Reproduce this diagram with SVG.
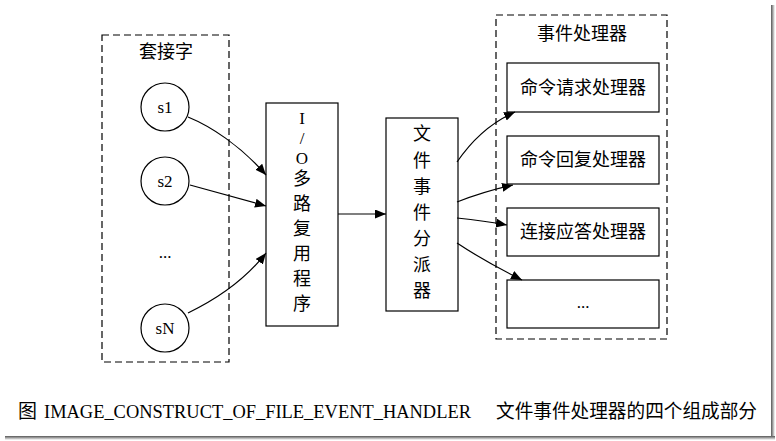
<svg xmlns="http://www.w3.org/2000/svg" width="776" height="441" viewBox="0 0 776 441">
<style>
  .t { font-family: "Liberation Serif", "Noto Sans CJK SC", serif; fill: #000; }
  .cjk { font-family: "Liberation Serif", "Noto Sans CJK SC", serif; font-size: 18px; text-anchor: middle; fill: #000; }
  .lat { font-family: "Liberation Serif", serif; font-size: 17px; text-anchor: middle; fill: #000; }
  .cluster { fill: none; stroke: #000; stroke-width: 1.2; stroke-dasharray: 7 4; }
  .node { fill: #fff; stroke: #000; stroke-width: 1.2; }
  .edge { fill: none; stroke: #000; stroke-width: 1.2; }
</style>
<defs>
  <marker id="arr" markerUnits="userSpaceOnUse" markerWidth="12" markerHeight="10" refX="11" refY="4.5" orient="auto">
    <path d="M0,0 L11,4.5 L0,9 Z" fill="#000"/>
  </marker>
  <linearGradient id="shR" x1="0" y1="0" x2="1" y2="0">
    <stop offset="0" stop-color="#555"/><stop offset="1" stop-color="#fff"/>
  </linearGradient>
  <linearGradient id="shB" x1="0" y1="0" x2="0" y2="1">
    <stop offset="0" stop-color="#555"/><stop offset="1" stop-color="#fff"/>
  </linearGradient>
</defs>
<rect width="776" height="441" fill="#fff"/>
<rect x="771" y="5" width="4" height="435" fill="url(#shR)"/>
<rect x="5" y="436" width="770" height="4" fill="url(#shB)"/>

<g id="cluster-sockets">
  <rect class="cluster" x="102" y="35" width="127" height="327"/>
  <text class="cjk" x="166" y="58">套接字</text>
</g>
<g id="s1">
  <circle class="node" cx="165" cy="107" r="24"/>
  <text class="lat" x="165" y="113">s1</text>
</g>
<g id="s2">
  <circle class="node" cx="165" cy="181" r="24"/>
  <text class="lat" x="165" y="187">s2</text>
</g>
<g id="sdots">
  <text class="lat" x="165" y="258">...</text>
</g>
<g id="sN">
  <circle class="node" cx="165" cy="328" r="24"/>
  <text class="lat" x="165" y="334">sN</text>
</g>

<g id="io">
  <rect class="node" x="266" y="103" width="72" height="223"/>
  <text class="lat" x="302" y="124">I</text>
  <text class="lat" x="302" y="144">/</text>
  <text class="lat" x="302" y="164">O</text>
  <text class="cjk" x="302" y="185">多</text>
  <text class="cjk" x="302" y="210">路</text>
  <text class="cjk" x="302" y="235">复</text>
  <text class="cjk" x="302" y="260">用</text>
  <text class="cjk" x="302" y="285">程</text>
  <text class="cjk" x="302" y="310">序</text>
</g>

<g id="dispatcher">
  <rect class="node" x="386" y="118" width="72" height="193"/>
  <text class="cjk" x="422" y="140">文</text>
  <text class="cjk" x="422" y="167">件</text>
  <text class="cjk" x="422" y="193">事</text>
  <text class="cjk" x="422" y="219">件</text>
  <text class="cjk" x="422" y="245">分</text>
  <text class="cjk" x="422" y="271">派</text>
  <text class="cjk" x="422" y="297">器</text>
</g>

<g id="cluster-handlers">
  <rect class="cluster" x="496" y="15" width="171" height="324"/>
  <text class="cjk" x="582" y="40">事件处理器</text>
</g>
<g id="h1">
  <rect class="node" x="507" y="63" width="152" height="49"/>
  <text class="cjk" x="583" y="94">命令请求处理器</text>
</g>
<g id="h2">
  <rect class="node" x="507" y="136" width="152" height="48"/>
  <text class="cjk" x="583" y="166">命令回复处理器</text>
</g>
<g id="h3">
  <rect class="node" x="507" y="208" width="152" height="48"/>
  <text class="cjk" x="583" y="238">连接应答处理器</text>
</g>
<g id="h4">
  <rect class="node" x="507" y="280" width="152" height="48"/>
  <text class="lat" x="583" y="308">...</text>
</g>

<g id="connectors">
  <path class="edge" marker-end="url(#arr)" d="M188,117 C210,126 240,145 266,175"/>
  <path class="edge" marker-end="url(#arr)" d="M190,185 C215,192 240,199 266,206"/>
  <path class="edge" marker-end="url(#arr)" d="M188,313 C215,300 245,280 266,253"/>
  <path class="edge" marker-end="url(#arr)" d="M338,214 L386,214"/>
  <path class="edge" marker-end="url(#arr)" d="M457,162 C472,140 492,122 515,112"/>
  <path class="edge" marker-end="url(#arr)" d="M457,202 C475,195 495,189 513,185"/>
  <path class="edge" marker-end="url(#arr)" d="M457,218 C475,220 490,222 507,225"/>
  <path class="edge" marker-end="url(#arr)" d="M457,243 C475,255 498,268 522,280"/>
</g>

<g id="caption">
  <text class="t" x="18" y="418" font-size="19">图</text>
  <text class="t" x="44" y="418" font-size="19" textLength="427" lengthAdjust="spacingAndGlyphs">IMAGE_CONSTRUCT_OF_FILE_EVENT_HANDLER</text>
  <text class="t" x="496" y="418" font-size="19" textLength="261" lengthAdjust="spacingAndGlyphs">文件事件处理器的四个组成部分</text>
</g>
</svg>
